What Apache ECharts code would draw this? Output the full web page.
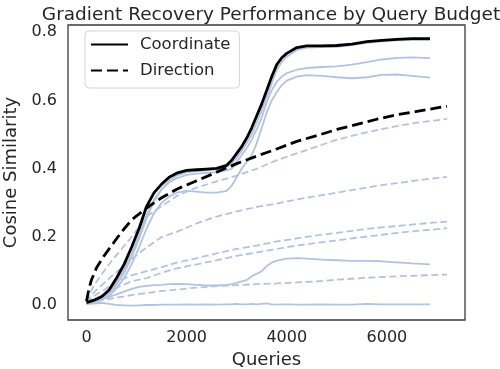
<!DOCTYPE html>
<html>
<head>
<meta charset="utf-8">
<script src="https://cdn.jsdelivr.net/npm/echarts@6/dist/echarts.min.js"></script>
<style>
  html, body { margin: 0; padding: 0; background: #fff; }
  #chart { width: 500px; height: 369px; }
</style>
</head>
<body>
<div id="chart"></div>
<script>
// query budgets where the curves were sampled
var solidQueries = [0, 150, 300, 450, 600, 750, 900, 1050, 1200, 1350, 1500, 1650, 1800, 2000, 2200, 2400, 2600, 2800, 2900, 3000,
  3100, 3200, 3300, 3400, 3500, 3600, 3700, 3800, 3900, 4000, 4200, 4400, 4700, 5000, 5300, 5600, 5900, 6200, 6500, 6860];
var dashedQueries = [0, 50, 100, 200, 350, 500, 700, 900, 1200, 1500, 1800, 2200, 2600, 3000, 3400, 3800, 4200, 4600, 5000,
  5400, 5800, 6200, 6600, 7000, 7200];

// coordinate-wise estimator (black = Coordinate, blue = single runs)
var coordinate = [0.008, 0.015, 0.025, 0.045, 0.08, 0.12, 0.17, 0.225, 0.29, 0.33, 0.355, 0.375, 0.387, 0.395, 0.397, 0.399, 0.401, 0.41, 0.425, 0.445,
  0.465, 0.49, 0.52, 0.555, 0.59, 0.63, 0.67, 0.705, 0.725, 0.738, 0.755, 0.76, 0.76, 0.761, 0.765, 0.772, 0.776, 0.779, 0.781, 0.781];
var coordRun1 = [0.005, 0.01, 0.02, 0.035, 0.06, 0.095, 0.14, 0.195, 0.255, 0.305, 0.34, 0.365, 0.38, 0.39, 0.393, 0.395, 0.398, 0.405, 0.415, 0.432,
  0.452, 0.475, 0.5, 0.535, 0.57, 0.61, 0.65, 0.69, 0.712, 0.728, 0.748, 0.755, 0.756, 0.757, 0.762, 0.769, 0.773, 0.776, 0.777, 0.777];
var coordRun2 = [0.005, 0.012, 0.022, 0.04, 0.068, 0.105, 0.15, 0.205, 0.265, 0.31, 0.34, 0.36, 0.372, 0.382, 0.386, 0.388, 0.39, 0.395, 0.40, 0.42,
  0.44, 0.46, 0.485, 0.515, 0.55, 0.595, 0.63, 0.655, 0.67, 0.68, 0.69, 0.695, 0.698, 0.70, 0.705, 0.712, 0.72, 0.725, 0.726, 0.724];
var coordRun3 = [0.004, 0.008, 0.015, 0.028, 0.05, 0.08, 0.12, 0.17, 0.225, 0.27, 0.30, 0.318, 0.33, 0.335, 0.333, 0.33, 0.33, 0.335, 0.35, 0.375,
  0.40, 0.42, 0.44, 0.475, 0.52, 0.565, 0.60, 0.625, 0.645, 0.658, 0.67, 0.674, 0.672, 0.668, 0.665, 0.668, 0.675, 0.676, 0.672, 0.667];
var coordRun4 = [0.004, 0.01, 0.018, 0.025, 0.032, 0.04, 0.048, 0.054, 0.057, 0.059, 0.06, 0.062, 0.063, 0.062, 0.06, 0.058, 0.058, 0.06, 0.062, 0.066,
  0.07, 0.074, 0.085, 0.092, 0.10, 0.115, 0.125, 0.131, 0.134, 0.137, 0.138, 0.137, 0.134, 0.132, 0.13, 0.13, 0.129, 0.126, 0.123, 0.12];
var coordRun5 = [0.004, 0.005, 0.007, 0.004, 0.001, 0.0, -0.001, 0.0, 0.001, 0.001, 0.002, 0.002, 0.002, 0.003, 0.002, 0.003, 0.002, 0.003, 0.003, 0.004,
  0.003, 0.003, 0.004, 0.003, 0.004, 0.006, 0.003, 0.002, 0.003, 0.003, 0.002, 0.002, 0.003, 0.002, 0.002, 0.004, 0.003, 0.003, 0.003, 0.003];

// direction-wise estimator
var direction = [0.012, 0.05, 0.075, 0.11, 0.145, 0.175, 0.215, 0.25, 0.285, 0.315, 0.34, 0.365, 0.39, 0.415, 0.437, 0.458, 0.48, 0.497, 0.515,
  0.53, 0.545, 0.558, 0.568, 0.578, 0.583];
var dirRun1 = [0.01, 0.03, 0.045, 0.07, 0.10, 0.13, 0.165, 0.20, 0.26, 0.29, 0.32, 0.345, 0.363, 0.38, 0.40, 0.425, 0.445, 0.465, 0.485,
  0.50, 0.513, 0.525, 0.535, 0.542, 0.546];
var dirRun2 = [0.008, 0.02, 0.03, 0.045, 0.065, 0.085, 0.11, 0.135, 0.17, 0.20, 0.215, 0.24, 0.26, 0.275, 0.288, 0.298, 0.31, 0.32, 0.33,
  0.34, 0.35, 0.358, 0.366, 0.373, 0.376];
var dirRun3 = [0.006, 0.015, 0.022, 0.032, 0.045, 0.06, 0.075, 0.088, 0.10, 0.112, 0.125, 0.138, 0.152, 0.165, 0.175, 0.187, 0.196, 0.205, 0.212,
  0.22, 0.227, 0.232, 0.238, 0.243, 0.245];
var dirRun4 = [0.005, 0.01, 0.015, 0.022, 0.032, 0.045, 0.058, 0.07, 0.08, 0.095, 0.108, 0.12, 0.132, 0.145, 0.155, 0.165, 0.175, 0.183, 0.19,
  0.198, 0.205, 0.212, 0.218, 0.223, 0.226];
var dirRun5 = [0.004, 0.006, 0.008, 0.012, 0.016, 0.02, 0.025, 0.03, 0.036, 0.042, 0.046, 0.052, 0.056, 0.059, 0.062, 0.064, 0.067, 0.07, 0.075,
  0.079, 0.082, 0.085, 0.087, 0.089, 0.09];

var xTicks = [0, 2000, 4000, 6000];
var yTicks = [0, 0.2, 0.4, 0.6, 0.8];

var runBlue = '#b3c3df';
var textColor = '#262626';

function pairs(xs, ys) {
  return xs.map(function (x, i) { return [x, ys[i]]; });
}

function line(name, xs, ys, color, width, dash, z) {
  return {
    name: name,
    type: 'line',
    data: pairs(xs, ys),
    symbol: 'none',
    smooth: false,
    silent: true,
    z: z,
    lineStyle: { color: color, width: width, type: dash },
    itemStyle: { color: color }
  };
}

var series = [];
[coordRun1, coordRun2, coordRun3, coordRun4, coordRun5].forEach(function (r, i) {
  series.push(line('coord run ' + i, solidQueries, r, runBlue, 1.8, 'solid', 2));
});
[dirRun1, dirRun2, dirRun3, dirRun4, dirRun5].forEach(function (r, i) {
  series.push(line('dir run ' + i, dashedQueries, r, runBlue, 1.8, [7, 3.5], 2));
});
series.push(line('Coordinate', solidQueries, coordinate, '#000', 2.8, 'solid', 5));
series.push(line('Direction', dashedQueries, direction, '#000', 2.8, [11, 5], 5));

var chart = echarts.init(document.getElementById('chart'));
chart.setOption({
  animation: false,
  backgroundColor: '#fff',
  title: {
    text: 'Gradient Recovery Performance by Query Budget',
    left: 266, top: 1, textAlign: 'center',
    textStyle: { fontFamily: 'DejaVu Sans', fontSize: 18.5, fontWeight: 'normal', color: textColor }
  },
  legend: {
    data: ['Coordinate', 'Direction'],
    orient: 'vertical',
    left: 85, top: 31,
    itemWidth: 37, itemHeight: 14, itemGap: 9,
    padding: [5, 9, 9, 5],
    borderColor: '#d6d6d6', borderWidth: 1, borderRadius: 4,
    backgroundColor: '#fff',
    itemStyle: { opacity: 0, borderWidth: 0 },
    textStyle: { fontFamily: 'DejaVu Sans', fontSize: 16.5, color: textColor, padding: [0, 0, 0, 7], lineHeight: 14 }
  },
  grid: {
    left: 68, right: 35, top: 25, bottom: 49,
    outerBoundsMode: 'none',
    show: true, borderColor: '#3a3a3a', borderWidth: 1.3, backgroundColor: '#fff'
  },
  xAxis: {
    type: 'value', min: -370, max: 7560,
    name: 'Queries', nameLocation: 'middle', nameGap: 31,
    nameTextStyle: { fontFamily: 'DejaVu Sans', fontSize: 18, color: textColor },
    axisLine: { show: false }, axisTick: { show: false }, splitLine: { show: false },
    axisLabel: {
      customValues: xTicks, margin: 10, fontFamily: 'DejaVu Sans', fontSize: 16, color: textColor,
      formatter: function (v) { return String(v); }
    }
  },
  yAxis: {
    type: 'value', min: -0.043, max: 0.821,
    name: 'Cosine Similarity', nameLocation: 'middle', nameGap: 43,
    nameTextStyle: { fontFamily: 'DejaVu Sans', fontSize: 18, color: textColor },
    axisLine: { show: false }, axisTick: { show: false }, splitLine: { show: false },
    axisLabel: {
      customValues: yTicks, margin: 11, fontFamily: 'DejaVu Sans', fontSize: 16, color: textColor,
      formatter: function (v) { return v.toFixed(1); }
    }
  },
  series: series
});
</script>
</body>
</html>
